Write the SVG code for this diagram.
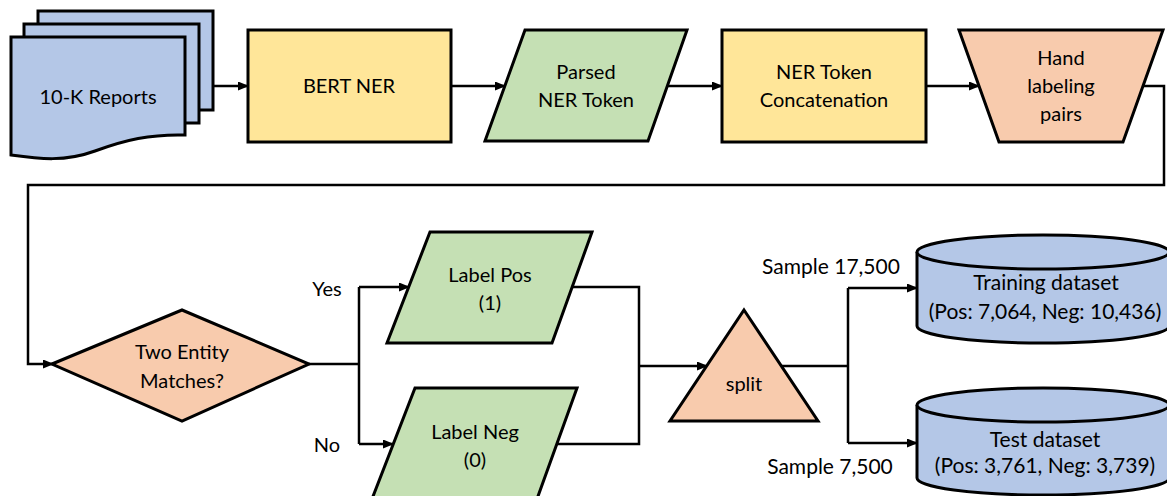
<svg xmlns="http://www.w3.org/2000/svg" width="1167" height="496" viewBox="0 0 1167 496">
<style>
.s{stroke:#000;stroke-width:3;stroke-linejoin:miter}
.blue{fill:#B4C7E7}.yel{fill:#FFE699}.grn{fill:#C5E0B4}.org{fill:#F8CBAD}
text{font-family:Lato,"Liberation Sans",sans-serif;font-size:20px;fill:#000;text-anchor:middle}
.lg{font-size:21px}
.c{fill:none;stroke:#000;stroke-width:2.5}
</style>
<defs>
<marker id="ah" markerUnits="userSpaceOnUse" markerWidth="11" markerHeight="9" refX="10" refY="4.5" orient="auto"><path d="M0,0 L11,4.5 L0,9 z" fill="#000"/></marker>
</defs>
<g id="connectors">
<path class="c" d="M213,86 H248" marker-end="url(#ah)"/>
<path class="c" d="M451,86 H505" marker-end="url(#ah)"/>
<path class="c" d="M667,86 H722" marker-end="url(#ah)"/>
<path class="c" d="M926,86 H979" marker-end="url(#ah)"/>
<path class="c" d="M1143,86 H1164 V185 H28 V364 H53" marker-end="url(#ah)"/>
<path class="c" d="M309,364 H359 M359,287 V444"/>
<path class="c" d="M359,287 H409" marker-end="url(#ah)"/>
<path class="c" d="M359,444 H393" marker-end="url(#ah)"/>
<path class="c" d="M571,287 H639 V444 H555"/>
<path class="c" d="M639,366 H707" marker-end="url(#ah)"/>
<path class="c" d="M781,366 H848 M848,288 V443"/>
<path class="c" d="M848,288 H917" marker-end="url(#ah)"/>
<path class="c" d="M848,443 H917" marker-end="url(#ah)"/>
<text x="327" y="296">Yes</text>
<text x="327" y="452">No</text>
<text class="lg" x="831" y="274">Sample 17,500</text>
<text class="lg" x="830" y="474">Sample 7,500</text>
</g>
<g id="reports">
<rect class="s blue" x="38" y="11" width="175" height="99"/>
<rect class="s blue" x="24" y="24" width="175" height="99"/>
<path class="s blue" d="M11,37 H185 V135 C150,134 125,140 95,151 C65,162 40,159 11,155 Z"/>
<text x="98" y="104">10-K Reports</text>
</g>
<g id="bert">
<rect class="s yel" x="248" y="30" width="203" height="112"/>
<text x="349" y="93">BERT NER</text>
</g>
<g id="parsed">
<path class="s grn" d="M525,30 H687 L648,141 H485 Z"/>
<text x="586" y="79">Parsed</text>
<text x="586" y="107">NER Token</text>
</g>
<g id="concat">
<rect class="s yel" x="722" y="30" width="204" height="112"/>
<text x="824" y="79">NER Token</text>
<text x="824" y="107">Concatenation</text>
</g>
<g id="hand">
<path class="s org" d="M959,30 H1163 L1123,142 H999 Z"/>
<text x="1061" y="65">Hand</text>
<text x="1061" y="93">labeling</text>
<text x="1061" y="121">pairs</text>
</g>
<g id="decision">
<path class="s org" d="M52,364 L182,310 L309,364 L182,421 Z"/>
<text x="182" y="359">Two Entity</text>
<text x="182" y="388">Matches?</text>
</g>
<g id="labelpos">
<path class="s grn" d="M430,232 H592 L552,343 H387 Z"/>
<text x="490" y="282">Label Pos</text>
<text x="490" y="310">(1)</text>
</g>
<g id="labelneg">
<path class="s grn" d="M415,388 H577 L537,499 H372 Z"/>
<text x="475" y="439">Label Neg</text>
<text x="475" y="467">(0)</text>
</g>
<g id="split">
<path class="s org" d="M744,310 L818,421 H670 Z"/>
<text x="744" y="391">split</text>
</g>
<g id="training">
<path class="s blue" d="M917,252 A126,17 0 0 1 1169,252 V326 A126,17 0 0 1 917,326 Z"/>
<path class="s blue" d="M917,252 A126,17 0 0 0 1169,252"/>
<text class="lg" x="1046" y="290">Training dataset</text>
<text class="lg" x="1045" y="319">(Pos: 7,064, Neg: 10,436)</text>
</g>
<g id="test">
<path class="s blue" d="M917,405 A126,17 0 0 1 1169,405 V478 A126,17 0 0 1 917,478 Z"/>
<path class="s blue" d="M917,405 A126,17 0 0 0 1169,405"/>
<text class="lg" x="1045" y="447">Test dataset</text>
<text class="lg" x="1045" y="473">(Pos: 3,761, Neg: 3,739)</text>
</g>
</svg>
